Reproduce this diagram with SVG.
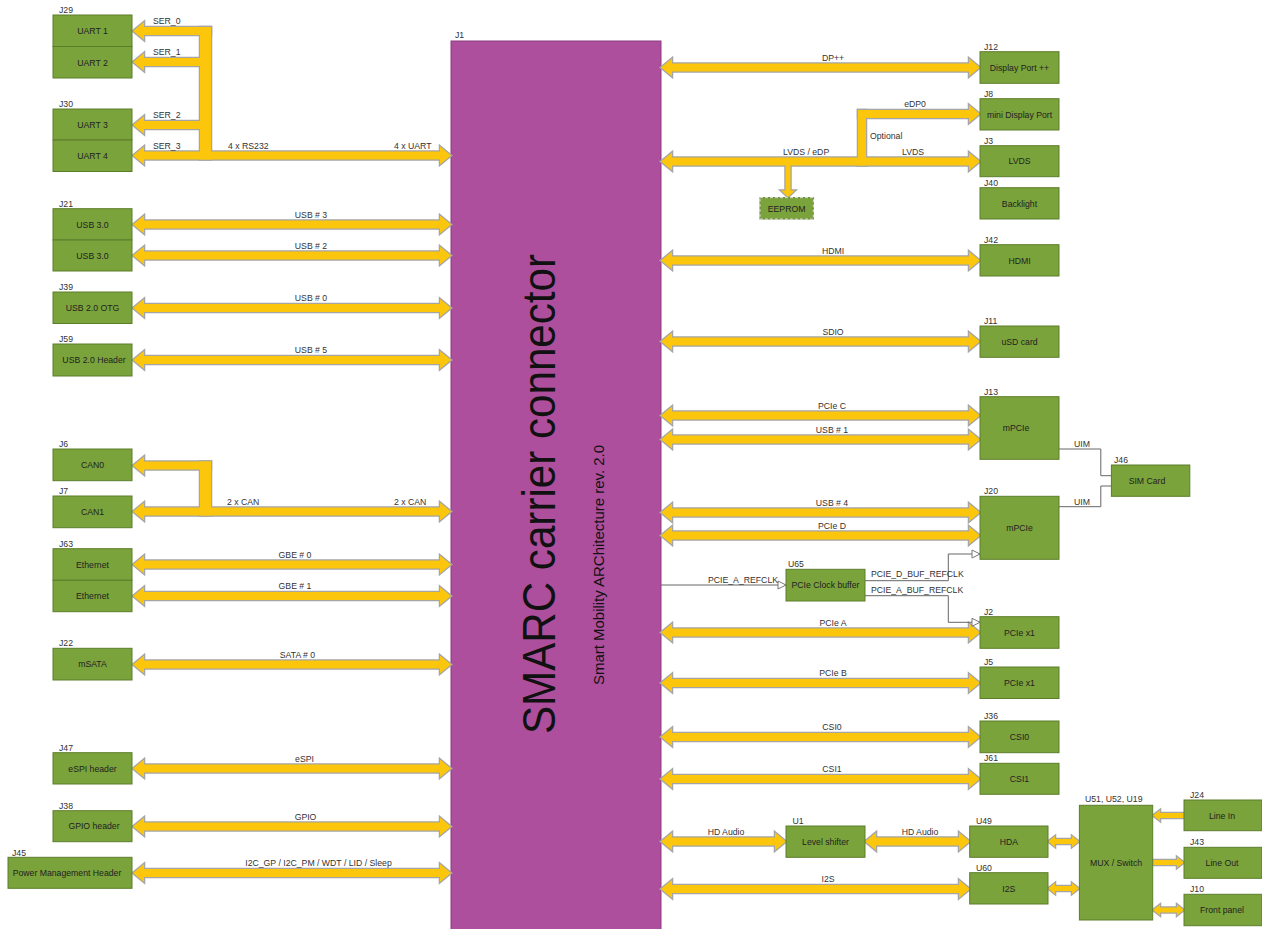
<svg xmlns="http://www.w3.org/2000/svg" xmlns:xlink="http://www.w3.org/1999/xlink" width="1262" height="929" viewBox="0 0 1262 929">
<style>
.box{fill:#7BA33B;stroke:#5C7D2A;stroke-width:1}
.t{font-family:"Liberation Sans",Arial,sans-serif;font-size:8.7px;fill:#222}
.l{font-family:"Liberation Sans",Arial,sans-serif;font-size:8.7px;fill:#333}
.c{text-anchor:middle}
.bo{fill:#FCC60D;stroke:#A5A5A5;stroke-width:2.5;stroke-linejoin:miter}
.bf{fill:#FCC60D;stroke:none}
.wire{fill:none;stroke:#666;stroke-width:1}
</style>
<defs>
<marker id="open" markerWidth="10" markerHeight="10" refX="9" refY="5" orient="auto" markerUnits="userSpaceOnUse">
<path d="M1,1 L9,5 L1,9 Z" fill="#fff" stroke="#777" stroke-width="1"/>
</marker>
<g id="busShapes">
<polygon points="133,31 144,22 144,27 211,27 211,35 144,35 144,40"/>
<polygon points="200,27 211,27 211,159.5 200,159.5"/>
<polygon points="133,62 144,53 144,58 205,58 205,66 144,66 144,71"/>
<polygon points="133,125 144,116 144,121 205,121 205,129 144,129 144,134"/>
<polygon points="133,155.5 144,146.5 144,151.5 440,151.5 440,146.5 451,155.5 440,164.5 440,159.5 144,159.5 144,164.5"/>
<polygon points="133,224.5 144,215.5 144,220.5 440,220.5 440,215.5 451,224.5 440,233.5 440,228.5 144,228.5 144,233.5"/>
<polygon points="133,255.5 144,246.5 144,251.5 440,251.5 440,246.5 451,255.5 440,264.5 440,259.5 144,259.5 144,264.5"/>
<polygon points="133,308 144,299 144,304 440,304 440,299 451,308 440,317 440,312 144,312 144,317"/>
<polygon points="133,360 144,351 144,356 440,356 440,351 451,360 440,369 440,364 144,364 144,369"/>
<polygon points="133,465.5 144,456.5 144,461.5 211,461.5 211,469.5 144,469.5 144,474.5"/>
<polygon points="200,461.5 211,461.5 211,515.5 200,515.5"/>
<polygon points="133,511.5 144,502.5 144,507.5 440,507.5 440,502.5 451,511.5 440,520.5 440,515.5 144,515.5 144,520.5"/>
<polygon points="133,564.5 144,555.5 144,560.5 440,560.5 440,555.5 451,564.5 440,573.5 440,568.5 144,568.5 144,573.5"/>
<polygon points="133,596 144,587 144,592 440,592 440,587 451,596 440,605 440,600 144,600 144,605"/>
<polygon points="133,664.5 144,655.5 144,660.5 440,660.5 440,655.5 451,664.5 440,673.5 440,668.5 144,668.5 144,673.5"/>
<polygon points="133,768.5 144,759.5 144,764.5 440,764.5 440,759.5 451,768.5 440,777.5 440,772.5 144,772.5 144,777.5"/>
<polygon points="133,826.5 144,817.5 144,822.5 440,822.5 440,817.5 451,826.5 440,835.5 440,830.5 144,830.5 144,835.5"/>
<polygon points="133,873 144,864 144,869 440,869 440,864 451,873 440,882 440,877 144,877 144,882"/>
<polygon points="661,67.5 672,58.5 672,63.5 969,63.5 969,58.5 980,67.5 969,76.5 969,71.5 672,71.5 672,76.5"/>
<polygon points="661,161.5 672,152.5 672,157.5 969,157.5 969,152.5 980,161.5 969,170.5 969,165.5 672,165.5 672,170.5"/>
<polygon points="858,110 866,110 866,165.5 858,165.5"/>
<polygon points="858,110 969,110 969,105 980,114 969,123 969,118 858,118"/>
<polygon points="785.5,161 790.5,161 790.5,190.5 795,190.5 788,197 781,190.5 785.5,190.5"/>
<polygon points="661,260.5 672,251.5 672,256.5 969,256.5 969,251.5 980,260.5 969,269.5 969,264.5 672,264.5 672,269.5"/>
<polygon points="661,341.5 672,332.5 672,337.5 969,337.5 969,332.5 980,341.5 969,350.5 969,345.5 672,345.5 672,350.5"/>
<polygon points="661,415.5 672,406.5 672,411.5 969,411.5 969,406.5 980,415.5 969,424.5 969,419.5 672,419.5 672,424.5"/>
<polygon points="661,439.5 672,430.5 672,435.5 969,435.5 969,430.5 980,439.5 969,448.5 969,443.5 672,443.5 672,448.5"/>
<polygon points="661,512.5 672,503.5 672,508.5 969,508.5 969,503.5 980,512.5 969,521.5 969,516.5 672,516.5 672,521.5"/>
<polygon points="661,535.5 672,526.5 672,531.5 969,531.5 969,526.5 980,535.5 969,544.5 969,539.5 672,539.5 672,544.5"/>
<polygon points="661,632.5 672,623.5 672,628.5 969,628.5 969,623.5 980,632.5 969,641.5 969,636.5 672,636.5 672,641.5"/>
<polygon points="661,683 672,674 672,679 969,679 969,674 980,683 969,692 969,687 672,687 672,692"/>
<polygon points="661,737 672,728 672,733 969,733 969,728 980,737 969,746 969,741 672,741 672,746"/>
<polygon points="661,779 672,770 672,775 969,775 969,770 980,779 969,788 969,783 672,783 672,788"/>
<polygon points="661,841.5 672,832.5 672,837.5 775,837.5 775,832.5 786,841.5 775,850.5 775,845.5 672,845.5 672,850.5"/>
<polygon points="865,841.5 876,832.5 876,837.5 959,837.5 959,832.5 970,841.5 959,850.5 959,845.5 876,845.5 876,850.5"/>
<polygon points="661,889 672,880 672,885 959,885 959,880 970,889 959,898 959,893 672,893 672,898"/>
<polygon points="1048,841.5 1055,836 1055,839 1072,839 1072,836 1079,841.5 1072,847 1072,844 1055,844 1055,847"/>
<polygon points="1048,888.5 1055,883 1055,886 1072,886 1072,883 1079,888.5 1072,894 1072,891 1055,891 1055,894"/>
<polygon points="1153,815.5 1160,810 1160,813 1184,813 1184,818 1160,818 1160,821"/>
<polygon points="1184,862.5 1177,857 1177,860 1153,860 1153,865 1177,865 1177,868"/>
<polygon points="1153,910 1160,904.5 1160,907.5 1177,907.5 1177,904.5 1184,910 1177,915.5 1177,912.5 1160,912.5 1160,915.5"/>
</g>
</defs>
<rect width="1262" height="929" fill="#fff"/>

<g id="J1">
<rect x="451" y="41" width="210" height="892" fill="#AD4F9C" stroke="#8B3C7E" stroke-width="1"/>
<text class="l" x="455" y="38">J1</text>
<text transform="translate(555,494) rotate(-90)" font-family="Liberation Sans,Arial,sans-serif" font-size="46" fill="#111" text-anchor="middle" textLength="480" lengthAdjust="spacingAndGlyphs">SMARC carrier connector</text>
<text transform="translate(604,565) rotate(-90)" font-family="Liberation Sans,Arial,sans-serif" font-size="14" fill="#111" text-anchor="middle" textLength="240" lengthAdjust="spacingAndGlyphs">Smart Mobility ARChitecture rev. 2.0</text>
</g>

<g id="connectors">
<use xlink:href="#busShapes" href="#busShapes" class="bo"/>
<use xlink:href="#busShapes" href="#busShapes" class="bf"/>
<path class="wire" d="M661,585 H786" marker-end="url(#open)"/>
<path class="wire" d="M865,580.7 H948.3 V554 H980" marker-end="url(#open)"/>
<path class="wire" d="M865,595.7 H948.3 V622.3 H980" marker-end="url(#open)"/>
<path class="wire" d="M1058.7,449 H1100.8 V475.7 H1111.4"/>
<path class="wire" d="M1058.7,506.7 H1100.8 V486 H1111.4"/>
<text class="l" x="153" y="24">SER_0</text>
<text class="l" x="153" y="55">SER_1</text>
<text class="l" x="153" y="118">SER_2</text>
<text class="l" x="153" y="149">SER_3</text>
<text class="l" x="228" y="149">4 x RS232</text>
<text class="l" x="394" y="149">4 x UART</text>
<text class="l c" x="311" y="217.5">USB # 3</text>
<text class="l c" x="311" y="248.5">USB # 2</text>
<text class="l c" x="311" y="301">USB # 0</text>
<text class="l c" x="311" y="353">USB # 5</text>
<text class="l" x="227" y="504.5">2 x CAN</text>
<text class="l" x="394" y="504.5">2 x CAN</text>
<text class="l c" x="295" y="557.5">GBE # 0</text>
<text class="l c" x="295" y="589">GBE # 1</text>
<text class="l c" x="297.5" y="657.5">SATA # 0</text>
<text class="l c" x="304.5" y="761.5">eSPI</text>
<text class="l c" x="305.5" y="819.5">GPIO</text>
<text class="l c" x="318.5" y="866">I2C_GP / I2C_PM / WDT / LID / Sleep</text>
<text class="l c" x="833" y="60.5">DP++</text>
<text class="l c" x="915" y="107">eDP0</text>
<text class="l" x="870" y="139.3">Optional</text>
<text class="l" x="783" y="154.5">LVDS / eDP</text>
<text class="l c" x="913" y="154.5">LVDS</text>
<text class="l c" x="833" y="253.5">HDMI</text>
<text class="l c" x="833" y="334.5">SDIO</text>
<text class="l c" x="832" y="408.5">PCIe C</text>
<text class="l c" x="832" y="432.5">USB # 1</text>
<text class="l" x="1074" y="446.5">UIM</text>
<text class="l" x="1074" y="505">UIM</text>
<text class="l c" x="832" y="505.5">USB # 4</text>
<text class="l c" x="832" y="528.5">PCIe D</text>
<text class="l" x="708" y="583">PCIE_A_REFCLK</text>
<text class="l" x="871" y="577.3">PCIE_D_BUF_REFCLK</text>
<text class="l" x="871" y="593.3">PCIE_A_BUF_REFCLK</text>
<text class="l c" x="833" y="625.5">PCIe A</text>
<text class="l c" x="833" y="676">PCIe B</text>
<text class="l c" x="832" y="730">CSI0</text>
<text class="l c" x="832" y="772">CSI1</text>
<text class="l c" x="726" y="835">HD Audio</text>
<text class="l c" x="920" y="835">HD Audio</text>
<text class="l c" x="828" y="882">I2S</text>
</g>

<g id="J29">
<rect class="box" x="53" y="15" width="79" height="31.5"/>
<rect class="box" x="53" y="46.5" width="79" height="31.5"/>
<text class="l" x="59" y="13">J29</text>
<text class="t c" x="92.5" y="34">UART 1</text>
<text class="t c" x="92.5" y="65.5">UART 2</text>
</g>
<g id="J30">
<rect class="box" x="53" y="109" width="79" height="31"/>
<rect class="box" x="53" y="140" width="79" height="31.5"/>
<text class="l" x="59" y="107">J30</text>
<text class="t c" x="92.5" y="127.5">UART 3</text>
<text class="t c" x="92.5" y="158.8">UART 4</text>
</g>
<g id="J21">
<rect class="box" x="53" y="208.7" width="79" height="31.3"/>
<rect class="box" x="53" y="240" width="79" height="31"/>
<text class="l" x="59" y="206.5">J21</text>
<text class="t c" x="92.5" y="227.5">USB 3.0</text>
<text class="t c" x="92.5" y="258.5">USB 3.0</text>
</g>
<g id="J39">
<rect class="box" x="53" y="292" width="79" height="31.5"/>
<text class="l" x="59" y="290">J39</text>
<text class="t c" x="92.5" y="311">USB 2.0 OTG</text>
</g>
<g id="J59">
<rect class="box" x="53" y="344" width="79" height="32"/>
<text class="l" x="59" y="342">J59</text>
<text class="t c" x="94" y="363">USB 2.0 Header</text>
</g>
<g id="J6">
<rect class="box" x="53" y="449" width="79" height="31.7"/>
<text class="l" x="59" y="447">J6</text>
<text class="t c" x="92.5" y="468">CAN0</text>
</g>
<g id="J7">
<rect class="box" x="53" y="496" width="79" height="31.7"/>
<text class="l" x="59" y="494">J7</text>
<text class="t c" x="92.5" y="515">CAN1</text>
</g>
<g id="J63">
<rect class="box" x="53" y="548.7" width="79" height="31.6"/>
<rect class="box" x="53" y="580.3" width="79" height="31.4"/>
<text class="l" x="59" y="546.7">J63</text>
<text class="t c" x="92.5" y="567.5">Ethernet</text>
<text class="t c" x="92.5" y="599">Ethernet</text>
</g>
<g id="J22">
<rect class="box" x="53" y="648.3" width="79" height="31.7"/>
<text class="l" x="59" y="646">J22</text>
<text class="t c" x="92.5" y="667.3">mSATA</text>
</g>
<g id="J47">
<rect class="box" x="53" y="752.7" width="79" height="31.3"/>
<text class="l" x="59" y="751">J47</text>
<text class="t c" x="92.5" y="771.5">eSPI header</text>
</g>
<g id="J38">
<rect class="box" x="53" y="810.7" width="79" height="31"/>
<text class="l" x="59" y="809">J38</text>
<text class="t c" x="94" y="829.3">GPIO header</text>
</g>
<g id="J45">
<rect class="box" x="8" y="857.3" width="124" height="31"/>
<text class="l" x="12" y="855.7">J45</text>
<text class="t c" x="67" y="876">Power Management Header</text>
</g>

<g id="J12">
<rect class="box" x="980" y="51.7" width="79" height="31.6"/>
<text class="l" x="984" y="50">J12</text>
<text class="t c" x="1019.5" y="70.5">Display Port ++</text>
</g>
<g id="J8">
<rect class="box" x="980" y="98.7" width="79" height="31.3"/>
<text class="l" x="984" y="97">J8</text>
<text class="t c" x="1019.5" y="117.5">mini Display Port</text>
</g>
<g id="J3">
<rect class="box" x="980" y="145.7" width="79" height="31"/>
<text class="l" x="984" y="143.5">J3</text>
<text class="t c" x="1019.5" y="164.3">LVDS</text>
</g>
<g id="J40">
<rect class="box" x="980" y="187.7" width="79" height="31.3"/>
<text class="l" x="984" y="186">J40</text>
<text class="t c" x="1019.5" y="206.5">Backlight</text>
</g>
<g id="EEPROM">
<rect x="760" y="197.7" width="53.3" height="21.3" fill="#7BA33B" stroke="#5C7D2A" stroke-width="1"/>
<rect x="760" y="197.7" width="53.3" height="21.3" fill="none" stroke="#e4eadb" stroke-width="1" stroke-dasharray="3 2"/>
<text class="t c" x="786.6" y="211.5">EEPROM</text>
</g>
<g id="J42">
<rect class="box" x="980" y="244.7" width="79" height="31.3"/>
<text class="l" x="984" y="243">J42</text>
<text class="t c" x="1019.5" y="263.5">HDMI</text>
</g>
<g id="J11">
<rect class="box" x="980" y="326" width="79" height="31.3"/>
<text class="l" x="984" y="324.3">J11</text>
<text class="t c" x="1019.5" y="344.8">uSD card</text>
</g>
<g id="J13">
<rect class="box" x="980" y="396.7" width="79" height="62.6"/>
<text class="l" x="984" y="395">J13</text>
<text class="t c" x="1016" y="431">mPCIe</text>
</g>
<g id="J46">
<rect class="box" x="1111.4" y="465" width="78.4" height="31.3"/>
<text class="l" x="1114" y="462.7">J46</text>
<text class="t c" x="1147" y="483.8">SIM Card</text>
</g>
<g id="J20">
<rect class="box" x="980" y="496.3" width="79" height="63"/>
<text class="l" x="984" y="494">J20</text>
<text class="t c" x="1019.5" y="531">mPCIe</text>
</g>
<g id="U65">
<rect class="box" x="786" y="569.3" width="79" height="31.7"/>
<text class="l" x="788" y="566.7">U65</text>
<text class="t c" x="825.5" y="588.2">PCIe Clock buffer</text>
</g>
<g id="J2">
<rect class="box" x="980" y="616.7" width="79" height="31.6"/>
<text class="l" x="984" y="614.5">J2</text>
<text class="t c" x="1019.5" y="635.5">PCIe x1</text>
</g>
<g id="J5">
<rect class="box" x="980" y="667" width="79" height="31.5"/>
<text class="l" x="984" y="665">J5</text>
<text class="t c" x="1019.5" y="686">PCIe x1</text>
</g>
<g id="J36">
<rect class="box" x="980" y="721" width="79" height="31.7"/>
<text class="l" x="984" y="719">J36</text>
<text class="t c" x="1019.5" y="740">CSI0</text>
</g>
<g id="J61">
<rect class="box" x="980" y="763.3" width="79" height="31"/>
<text class="l" x="984" y="761">J61</text>
<text class="t c" x="1019.5" y="782">CSI1</text>
</g>
<g id="U1">
<rect class="box" x="786" y="826" width="79" height="31.3"/>
<text class="l" x="792.5" y="824">U1</text>
<text class="t c" x="825.5" y="844.8">Level shifter</text>
</g>
<g id="U49">
<rect class="box" x="969.7" y="826" width="78.3" height="31.3"/>
<text class="l" x="976" y="823.5">U49</text>
<text class="t c" x="1008.8" y="844.8">HDA</text>
</g>
<g id="U60">
<rect class="box" x="969.7" y="872.7" width="78.3" height="31.3"/>
<text class="l" x="976" y="870.7">U60</text>
<text class="t c" x="1008.8" y="891.5">I2S</text>
</g>
<g id="MUX">
<rect class="box" x="1079.4" y="805.3" width="73.3" height="114.7"/>
<text class="l" x="1085" y="801.7">U51, U52, U19</text>
<text class="t c" x="1116" y="866">MUX / Switch</text>
</g>
<g id="J24">
<rect class="box" x="1184" y="800" width="78" height="30.7"/>
<text class="l" x="1190" y="797.5">J24</text>
<text class="t c" x="1222" y="818.5">Line In</text>
</g>
<g id="J43">
<rect class="box" x="1184" y="847.3" width="78" height="31"/>
<text class="l" x="1190" y="845">J43</text>
<text class="t c" x="1222" y="866">Line Out</text>
</g>
<g id="J10">
<rect class="box" x="1184" y="894.3" width="78" height="31.4"/>
<text class="l" x="1190" y="892.3">J10</text>
<text class="t c" x="1222" y="913">Front panel</text>
</g>
</svg>
